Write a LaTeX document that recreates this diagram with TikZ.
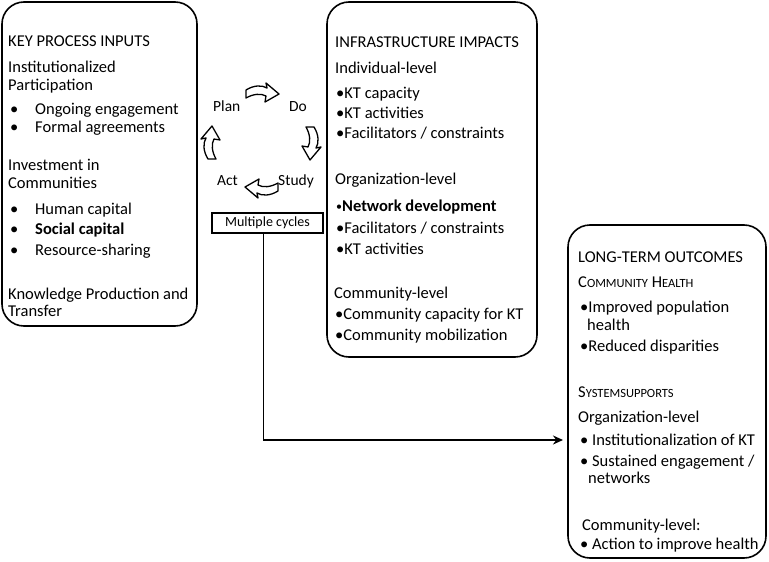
\documentclass[tikz,border=0pt]{standalone}
\usepackage{fontspec}
\setmainfont{Carlito}
\usetikzlibrary{arrows.meta,positioning}
\newcommand{\itm}{\makebox[25pt][l]{•}}
\newcommand{\smcp}[1]{{\fontsize{12.5}{14}\selectfont #1}}
\newcommand{\dotb}{{\fontsize{12}{12}\selectfont\raisebox{0.5pt}{•}}}
\begin{document}
\begin{tikzpicture}[x=1pt, y=-1pt,
  box/.style={draw, line width=1.6pt, rounded corners=22pt, inner sep=0pt},
  txt/.style={anchor=base west, inner sep=0pt, font=\fontsize{16.5}{19}\selectfont},
  cyc/.style={anchor=base west, inner sep=0pt, font=\fontsize{15.5}{18}\selectfont},
  small box/.style={draw, line width=1.2pt, minimum width=111pt, minimum height=20pt, inner sep=0pt, font=\fontsize{14}{16}\selectfont},
  flow/.style={draw, line width=1.8pt, -{Stealth[length=10pt,width=9pt]}},
  cyc arrow/.pic={
    \draw[line width=1.3pt, fill=white, line join=round]
      (-16,-3) .. controls (-8,-8) and (0,-8) .. (5,-5) -- (4,-10) -- (17,1)
      -- (3,9) -- (4,3) .. controls (-1,0) and (-9,1) .. (-16,5) -- cycle;
  }
]
\useasboundingbox (0,0) rectangle (769,562);
% Define the boxes
\node[box, minimum width=195pt, minimum height=324pt] (IN) at (99.5,164) {};
\node[box, minimum width=210pt, minimum height=355pt] (IM) at (432,179.5) {};
\node[box, minimum width=198pt, minimum height=333pt] (OUT) at (667,391.5) {};
% Key process inputs
\node[txt] (L1) at (8,46) {KEY PROCESS INPUTS};
\node[txt] (L2) at (8,72) {Institutionalized};
\node[txt] (L3) at (8,90) {Participation};
\node[txt] (L4) at (10,114) {\itm Ongoing engagement};
\node[txt] (L5) at (10,132) {\itm Formal agreements};
\node[txt] (L6) at (8,170) {Investment in};
\node[txt] (L7) at (8,188) {Communities};
\node[txt] (L8) at (10,214) {\itm Human capital};
\node[txt] (L9) at (10,234) {\itm \textbf{Social capital}};
\node[txt] (L10) at (10,255) {\itm Resource-sharing};
\node[txt] (L11) at (8,299) {Knowledge Production and};
\node[txt] (L12) at (8,316) {Transfer};
% Infrastructure impacts
\node[txt] (M1) at (335,47) {INFRASTRUCTURE IMPACTS};
\node[txt] (M2) at (335,73) {Individual-level};
\node[txt] (M3) at (336,98) {•KT capacity};
\node[txt] (M4) at (336,118) {•KT activities};
\node[txt] (M5) at (336,138) {•Facilitators / constraints};
\node[txt] (M6) at (335,184) {Organization-level};
\node[txt] (M7) at (336,211) {\dotb\textbf{Network development}};
\node[txt] (M8) at (336,233) {•Facilitators / constraints};
\node[txt] (M9) at (336,254) {•KT activities};
\node[txt] (M10) at (334,298) {Community-level};
\node[txt] (M11) at (335,319) {•Community capacity for KT};
\node[txt] (M12) at (335,340) {•Community mobilization};
% Long-term outcomes
\node[txt] (R1) at (578,262) {LONG-TERM OUTCOMES};
\node[txt] (R2) at (578,287) {C\smcp{OMMUNITY} H\smcp{EALTH}};
\node[txt] (R3) at (580,312) {•Improved population};
\node[txt] (R4) at (587,330) {health};
\node[txt] (R5) at (580,351) {•Reduced disparities};
\node[txt] (R6) at (578,397) {S\smcp{YSTEMSUPPORTS}};
\node[txt] (R7) at (578,422) {Organization-level};
\node[txt] (R8) at (580,445) {• Institutionalization of KT};
\node[txt] (R9) at (580,466) {• Sustained engagement /};
\node[txt] (R10) at (588,483) {networks};
\node[txt] (R11) at (582,530) {Community-level:};
\node[txt] (R12) at (580,549) {• Action to improve health};
% PDSA cycle
\node[cyc] (P) at (213,111) {Plan};
\node[cyc] (D) at (289,111) {Do};
\node[cyc] (S) at (278,185) {Study};
\node[cyc] (A) at (217,185) {Act};
\pic at (262,93) {cyc arrow};
\pic[rotate=270] at (311,143) {cyc arrow};
\pic[rotate=180] at (262,188) {cyc arrow};
\pic[rotate=90] at (211,143) {cyc arrow};
\node[small box] (MC) at (267.5,223) {Multiple cycles};
% Define the edges
\coordinate (E) at (563,440);
\path[flow] ([xshift=-4pt]MC.south) |- (E);
\end{tikzpicture}
\end{document}
